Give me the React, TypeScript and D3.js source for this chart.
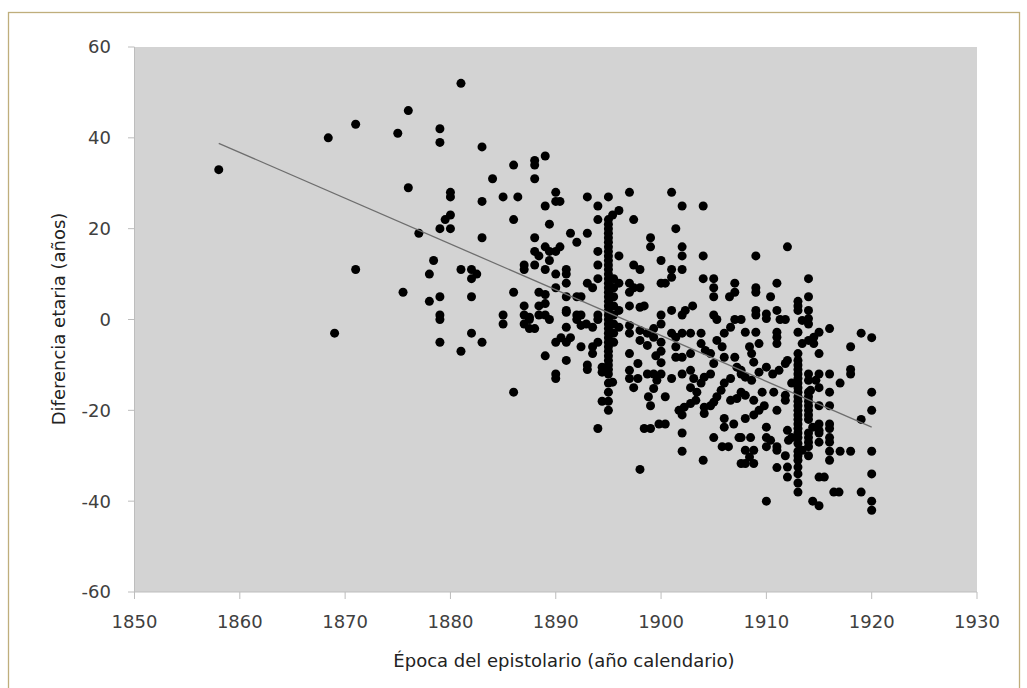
import React from "react";
import * as d3 from "d3";

const xTicks = [1850, 1860, 1870, 1880, 1890, 1900, 1910, 1920, 1930];
const yTicks = [-60, -40, -20, 0, 20, 40, 60];
const xTitle = "Época del epistolario (año calendario)";
const yTitle = "Diferencia etaria (años)";

const trendYears = [1858, 1920];
const trendDiffs = [38.8, -23.7];

// [year, age difference]
const earlyPoints: [number, number][] = [
  [1858, 33], [1868.4, 40], [1871, 43], [1875, 41], [1876, 46], [1879, 42], [1879, 39], [1881, 52],
  [1883, 38], [1886, 34], [1884, 31], [1876, 29], [1880, 28], [1880, 27], [1885, 27], [1886.4, 27],
  [1883, 26], [1880, 23], [1879.5, 22], [1879, 20], [1880, 20], [1877, 19], [1883, 18], [1886, 22],
  [1871, 11], [1878.4, 13], [1878, 10], [1881, 11], [1882, 11], [1882.5, 10], [1882, 9], [1875.5, 6],
  [1878, 4], [1879, 5], [1882, 5], [1886, 6], [1879, 1], [1879, 0], [1885, 1], [1885, -1], [1869, -3],
  [1882, -3], [1879, -5], [1883, -5], [1881, -7], [1886, -16],
];

const points1890s: [number, number][] = [
  [1889, 36], [1888, 35], [1888, 34], [1888, 31], [1890, 28], [1890, 26], [1890.4, 26], [1889, 25],
  [1893, 27], [1895, 27], [1894, 25], [1889.4, 21], [1894, 22], [1891.4, 19], [1892, 17], [1893, 19],
  [1888, 18], [1888, 15], [1888.4, 14], [1889, 16], [1889.4, 15], [1890, 15], [1890.4, 16], [1889.4, 13],
  [1887, 12], [1887, 11], [1888, 12], [1889, 11], [1890, 10], [1891, 11], [1891, 10], [1891, 8],
  [1894, 15], [1894, 12], [1894, 9], [1893, 8], [1893.5, 7], [1890, 7], [1888.4, 6], [1889, 5.5],
  [1891, 5], [1892, 5], [1892.4, 5], [1887, 3], [1888.4, 3], [1889, 3.5], [1891, 2], [1892, 1],
  [1892.4, 1], [1887, 1], [1887.5, 0.5], [1888.4, 1], [1889, 1], [1894, 1],
  [1887, -1], [1887.5, 0], [1887.5, -2], [1888, -2], [1889.4, 0], [1891, 1.6], [1892, 0], [1892.9, -1],
  [1893.5, -1.7], [1894, 0], [1891, -1.7], [1892.4, -1.3], [1890.5, -4], [1891, -5], [1891.4, -4],
  [1890, -5], [1892.4, -6], [1893.5, -6], [1894, -5], [1893.5, -7.5], [1889, -8], [1891, -9], [1890, -12],
  [1890, -13], [1893, -10], [1893, -11], [1894.4, -10.5], [1894.4, -11.6], [1895.4, -13.8], [1895, -14],
  [1895, -16], [1894.4, -18], [1895, -18], [1895, -20], [1894, -24],
];

const stack1895: number[] = [
  22, 21, 20, 19, 18, 17, 16, 15, 14, 13, 12, 11, 10, 9, 8, 7, 6, 5, 4, 3, 2, 1, 0, -1, -2, -3, -4, -5,
  -6, -7, -8, -9, -10, -11, -12,
];
const stack1895b: number[] = [9, 7, 5, 3, 1, -1, -3, -5];

const points1900s: [number, number][] = [
  [1897, 28], [1901, 28], [1902, 25], [1904, 25], [1896, 24], [1895.4, 23], [1897.4, 22], [1901.4, 20],
  [1899, 18], [1899, 16], [1902, 16], [1902, 14], [1904, 14], [1896, 14], [1900, 13], [1897.4, 12],
  [1898, 11], [1901, 11], [1902, 11], [1901, 9.3], [1900, 8], [1900.4, 8], [1904, 9], [1905, 9],
  [1905, 7], [1905, 5], [1907, 8], [1907, 6], [1906.5, 5], [1897, 8], [1897, 6], [1897.4, 7], [1898, 7],
  [1896, 8], [1895.4, 7], [1896, 2], [1897, 3], [1898, 2.7], [1898.4, 3], [1900, 1], [1901, 2], [1902, 1],
  [1902.3, 2], [1903, 3], [1905, 1], [1905.3, 0], [1907, 0],
  [1896, -1.7], [1897, -3], [1897, -1.3], [1898, -2.4], [1898.7, -3], [1899.3, -2], [1900, -1],
  [1898, -4.6], [1898.7, -5.7], [1899.3, -3.9], [1900, -5], [1900, -7], [1899.5, -8], [1900, -9.5],
  [1901, -3], [1901.4, -3.9], [1901.4, -6], [1901.4, -8.3], [1902, -3], [1902, -8.3], [1902.8, -3],
  [1902.8, -7.5], [1903.8, -3], [1903.8, -5.3], [1904.2, -6.8], [1904.7, -7.5], [1905.3, -4.6],
  [1906, -3], [1906.6, -1.7], [1905.8, -6], [1906, -8.3], [1907, -8.3], [1907.2, -10.5], [1907.6, -12],
  [1905, -9.7], [1897, -7.5], [1897, -11.2], [1897.8, -9.7], [1897, -13], [1897.8, -13], [1897.4, -15],
  [1898.7, -12], [1899.3, -12], [1899.6, -13.4], [1900, -12], [1899.3, -15.2], [1898.8, -17], [1899, -19],
  [1900.4, -17], [1901, -13], [1902, -12], [1902.8, -11.2], [1903.1, -13], [1902.8, -15], [1903.4, -16],
  [1903.8, -14], [1904.1, -12.7], [1904.7, -12], [1903.3, -17.8], [1902.8, -18.5], [1902.2, -19.3],
  [1901.7, -20], [1902, -21], [1904.1, -19.3], [1904.1, -20.7], [1904.7, -19], [1905.7, -15.6],
  [1905.3, -17], [1905, -18.2], [1906, -14], [1906.6, -13], [1906.6, -17.8], [1907.2, -17.4],
  [1907.6, -16], [1906, -21.8], [1906, -23.7], [1906.9, -23], [1898.4, -24], [1899, -24], [1899.8, -23],
  [1900.4, -23], [1902, -25], [1902, -29], [1898, -33], [1904, -31], [1905, -26], [1905.8, -28],
  [1906.4, -28], [1907.4, -26], [1907.6, -31.7],
];

const points1910s: [number, number][] = [
  [1912, 16], [1909, 14], [1914, 9], [1911, 8], [1909, 7], [1909, 6], [1910.4, 5], [1914, 5], [1913, 4],
  [1913, 3], [1913, 2], [1914, 2], [1914, 0.2], [1911, 2], [1911.3, 0], [1911.8, 0], [1909, 2], [1909, 1],
  [1910, 1.2], [1910, 0.2], [1907.6, 0], [1913.4, -0.2], [1914, -1], [1908, -2.8], [1909, -2.8],
  [1911, -2.8], [1911, -3.9], [1913, -2.8], [1915, -2.8], [1914.5, -3.9], [1916, -2], [1919, -3],
  [1920, -4],
  [1918, -6], [1918, -11], [1918, -12], [1916, -12], [1917, -14], [1920, -16], [1920, -20], [1919, -22],
  [1916, -16], [1916, -19], [1915, -19], [1916, -23], [1916, -24], [1916, -26], [1915, -23], [1915, -25],
  [1915, -27], [1916, -27], [1916, -29], [1916, -31], [1917, -29], [1918, -29], [1920, -29], [1920, -34],
  [1915, -34.7], [1915.5, -34.7], [1916.4, -38], [1916.9, -38], [1919, -38], [1920, -40], [1920, -42],
  [1914.4, -40], [1915, -41], [1910, -40], [1913, -36], [1913, -38], [1913, -31], [1913, -32.5],
  [1913, -34], [1912, -32.5], [1912, -34.7], [1911, -32.6], [1911.8, -30], [1911, -28.8], [1914, -22],
  [1914.4, -23.7], [1915, -24.4], [1914, -28], [1914, -30], [1913.4, -28.8], [1912, -24.4], [1912.4, -26],
  [1913, -27.3], [1912.1, -26.6], [1910, -23.7], [1910, -26], [1910.4, -26.6], [1911, -28], [1910, -28],
  [1908, -28.8], [1908, -31.7], [1908.8, -28.8], [1908.8, -31.7], [1908.4, -30.3], [1907.6, -26],
  [1908.5, -26], [1908, -21.8], [1908.8, -21], [1909.3, -20], [1909.8, -19], [1911, -20], [1908.8, -17.8],
  [1908, -16.7], [1909.6, -16], [1910.7, -16], [1911.8, -16.7], [1911.8, -17.8], [1912.4, -14],
  [1908, -12.7], [1908.6, -13.4], [1907.6, -11.2], [1909.3, -11.6], [1910, -10.5], [1910.6, -12],
  [1911.2, -11.2], [1911.8, -9.7], [1908.8, -9.4], [1908.6, -7.5], [1908.4, -6], [1909.3, -5.3],
  [1911, -5.3], [1912, -9], [1913, -7.5], [1913.4, -5.3], [1914, -4.6], [1914.5, -5.3], [1915, -7.5],
  [1914, -12], [1914, -13.4], [1914.2, -15.6], [1914.7, -13.4], [1915, -15], [1915, -12],
];

const stack1913: number[] = [
  -9, -10, -11, -12, -13, -14, -15, -16, -17, -18, -19, -20, -21, -22, -23, -24, -25, -26, -29, -30,
];
const stack1914: number[] = [-16, -17, -18, -19, -20, -21, -25, -26, -27];

const allPoints: [number, number][] = [
  ...earlyPoints,
  ...points1890s,
  ...stack1895.map((v) => [1895, v] as [number, number]),
  ...stack1895b.map((v) => [1895.5, v] as [number, number]),
  ...points1900s,
  ...points1910s,
  ...stack1913.map((v) => [1913, v] as [number, number]),
  ...stack1914.map((v) => [1914, v] as [number, number]),
];

export default function App() {
  const W = 1027;
  const H = 688;
  const left = 134.5;
  const right = 977;
  const top = 47;
  const bottom = 592;
  const x = d3.scaleLinear().domain([1850, 1930]).range([left, right]);
  const y = d3.scaleLinear().domain([-60, 60]).range([bottom, top]);
  const line = d3
    .line<number>()
    .x((d, i) => x(trendYears[i]))
    .y((d) => y(d));
  const font = "'DejaVu Sans', Verdana, sans-serif";
  const axisColor = "#bdbdbd";
  return (
    <svg
      width={W}
      height={H}
      style={{ position: "absolute", left: 0, top: 0, background: "#fff" }}
    >
      <rect x={8.5} y={12.5} width={1011} height={700} fill="#fff" stroke="#bfae7c" strokeWidth={1.3} />
      <rect x={left} y={top} width={right - left} height={bottom - top} fill="#d3d3d3" />
      <line x1={left} x2={left} y1={top} y2={bottom} stroke={axisColor} strokeWidth={1} />
      <line x1={left} x2={right} y1={bottom} y2={bottom} stroke={axisColor} strokeWidth={1} />
      {yTicks.map((t) => (
        <g key={"y" + t}>
          <line x1={left - 6.5} x2={left} y1={y(t)} y2={y(t)} stroke={axisColor} />
          <text
            x={111}
            y={y(t)}
            dy="0.36em"
            textAnchor="end"
            fontFamily={font}
            fontSize={18}
            fill="#404040"
          >
            {t}
          </text>
        </g>
      ))}
      {xTicks.map((t) => (
        <g key={"x" + t}>
          <line x1={x(t)} x2={x(t)} y1={bottom} y2={bottom + 7} stroke={axisColor} />
          <text
            x={x(t)}
            y={628}
            textAnchor="middle"
            fontFamily={font}
            fontSize={18}
            fill="#404040"
          >
            {t}
          </text>
        </g>
      ))}
      <g>
        {allPoints.map((p, i) => (
          <circle key={i} cx={x(p[0])} cy={y(p[1])} r={4.5} fill="#000" />
        ))}
      </g>
      <path d={line(trendDiffs) || ""} fill="none" stroke="#6e6e6e" strokeWidth={1.3} />
      <text x={564} y={667} textAnchor="middle" fontFamily={font} fontSize={18} fill="#222">
        {xTitle}
      </text>
      <text
        transform="translate(65,319) rotate(-90)"
        textAnchor="middle"
        fontFamily={font}
        fontSize={18}
        fill="#222"
      >
        {yTitle}
      </text>
    </svg>
  );
}
